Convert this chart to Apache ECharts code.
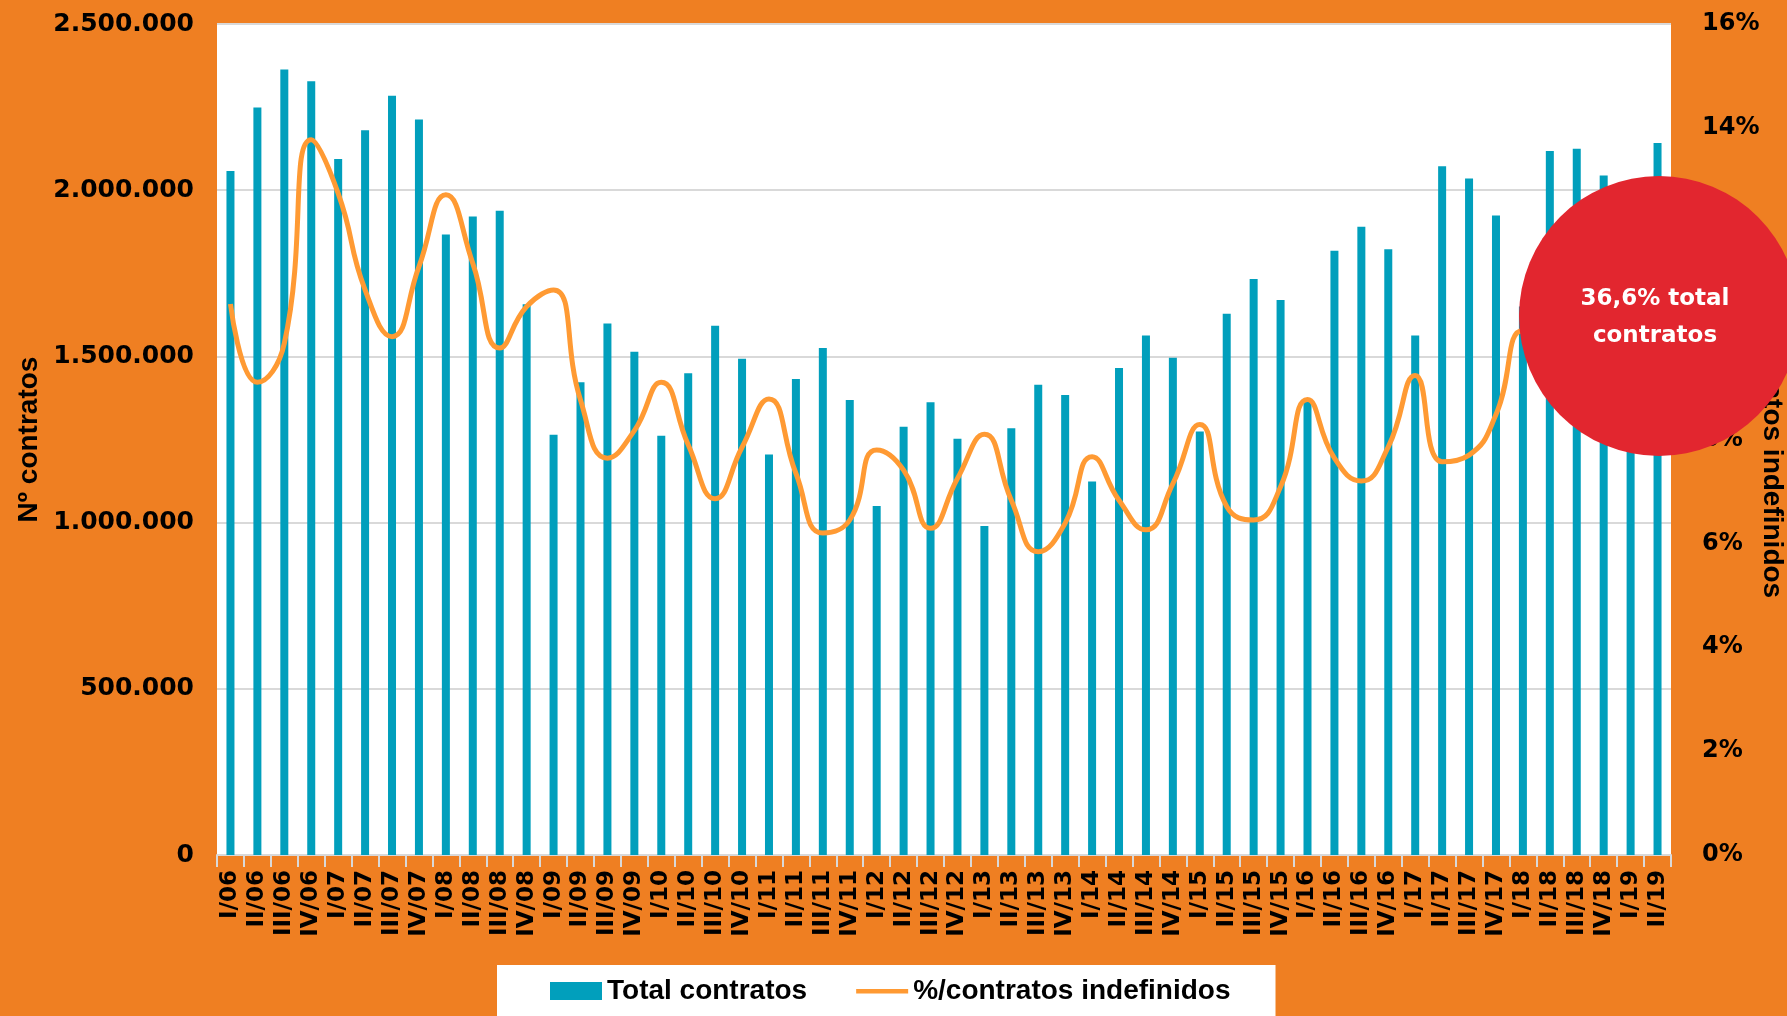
<!DOCTYPE html>
<html>
<head>
<meta charset="utf-8">
<script src="https://cdn.jsdelivr.net/npm/echarts@6/dist/echarts.min.js"></script>
<style>
html,body{margin:0;padding:0;background:#EF7F22;}
#chart{width:1787px;height:1016px;}
</style>
</head>
<body>
<div id="chart"></div>
<script>
const categories = ['I/06','II/06','III/06','IV/06','I/07','II/07','III/07','IV/07','I/08','II/08','III/08','IV/08',
'I/09','II/09','III/09','IV/09','I/10','II/10','III/10','IV/10','I/11','II/11','III/11','IV/11',
'I/12','II/12','III/12','IV/12','I/13','II/13','III/13','IV/13','I/14','II/14','III/14','IV/14',
'I/15','II/15','III/15','IV/15','I/16','II/16','III/16','IV/16','I/17','II/17','III/17','IV/17',
'I/18','II/18','III/18','IV/18','I/19','II/19'];

const totalContratos = [2058000,2249000,2363000,2328000,2094000,2180000,2284000,2213000,1867000,1921000,1938000,1657000,
1264000,1422000,1599000,1514000,1261000,1449000,1592000,1493000,1205000,1432000,1525000,1369000,
1050000,1288000,1362000,1252000,990000,1284000,1415000,1384000,1124000,1465000,1563000,1496000,
1274000,1628000,1733000,1670000,1365000,1818000,1890000,1822000,1563000,2072000,2035000,1924000,
1650000,2118000,2125000,2044000,1720000,2142000];

const pctIndefinidos = [10.61,9.10,9.85,13.77,12.74,10.88,9.98,11.33,12.71,11.39,9.76,10.56,
10.88,8.76,7.64,8.17,9.10,7.90,6.86,7.85,8.78,7.35,6.20,6.45,
7.80,7.41,6.29,7.25,8.10,6.83,5.84,6.39,7.67,6.83,6.26,7.15,
8.29,6.71,6.45,7.09,8.77,7.64,7.20,7.86,9.23,7.57,7.70,8.48,
10.10,9.40,9.00,9.60,11.00,10.20];

const leftTicks = {min:0, max:2500000, interval:500000};
const rightTicks = {min:0, max:16, interval:2};
const calloutText = '36,6% total\ncontratos';

const chart = echarts.init(document.getElementById('chart'));
const fmtThousands = v => String(v).replace(/\B(?=(\d{3})+(?!\d))/g, '.');

chart.setOption({
  backgroundColor: '#EF7F22',
  animation: false,
  grid: {left: 217, right: 116, top: 24, bottom: 161, show: true, backgroundColor: '#FFFFFF', borderWidth: 0,
         containLabel: false, outerBoundsMode: 'none'},
  legend: {
    left: 497, top: 965,
    backgroundColor: '#FFFFFF',
    padding: [12, 45, 24, 53],
    itemWidth: 52, itemHeight: 18, itemGap: 49,
    textStyle: {fontFamily: 'Liberation Sans', fontWeight: 'bold', fontSize: 28, color: '#000', lineHeight: 28},
    data: [
      {name: 'Total contratos', icon: 'rect'},
      {name: '%/contratos indefinidos', icon: 'path://M0,0 L0.01,0 L0,0.01 Z M0,7 L52,7 L52,11.5 L0,11.5 Z M51.99,18 L52,18 L52,17.99 Z', itemStyle: {color: '#FF9A33'}}
    ]
  },
  xAxis: {
    type: 'category',
    data: categories,
    boundaryGap: true,
    axisLine: {lineStyle: {color: '#D9D9D9', width: 2}},
    axisTick: {show: true, length: 12, lineStyle: {color: '#D9D9D9', width: 2}},
    axisLabel: {rotate: 90, interval: 0, margin: 15, fontFamily: 'DejaVu Sans', fontWeight: 'bold', fontSize: 23, color: '#000'},
    splitLine: {show: false}
  },
  yAxis: [{
    type: 'value',
    min: leftTicks.min, max: leftTicks.max, interval: leftTicks.interval,
    name: 'Nº contratos',
    nameLocation: 'middle', nameRotate: 90, nameGap: 174, nameMoveOverlap: false,
    nameTextStyle: {fontFamily: 'Liberation Sans', fontWeight: 'bold', fontSize: 28, color: '#000'},
    axisLine: {show: false}, axisTick: {show: false},
    axisLabel: {margin: 23, fontFamily: 'DejaVu Sans', fontWeight: 'bold', fontSize: 25, color: '#000', formatter: fmtThousands},
    splitLine: {show: true, lineStyle: {color: '#D9D9D9', width: 2}}
  }, {
    type: 'value',
    position: 'right',
    min: rightTicks.min, max: rightTicks.max, interval: rightTicks.interval,
    name: '%/contratos indefinidos',
    nameLocation: 'middle', nameRotate: -90, nameGap: 87, nameMoveOverlap: false,
    nameTextStyle: {fontFamily: 'Liberation Sans', fontWeight: 'bold', fontSize: 28, color: '#000'},
    axisLine: {show: false}, axisTick: {show: false},
    axisLabel: {margin: 31, fontFamily: 'DejaVu Sans', fontWeight: 'bold', fontSize: 24, color: '#000', formatter: v => v + '%'},
    splitLine: {show: false}
  }],
  series: [{
    name: 'Total contratos',
    type: 'bar',
    yAxisIndex: 0,
    data: totalContratos,
    barWidth: 8,
    itemStyle: {color: '#019FBC'}
  }, {
    name: '%/contratos indefinidos',
    type: 'line',
    yAxisIndex: 1,
    data: pctIndefinidos,
    smooth: 0.5,
    symbol: 'none',
    lineStyle: {color: '#FF9A33', width: 5},
    itemStyle: {color: '#FF9A33'},
    z: 3
  }],
  graphic: [{
    type: 'circle',
    z: 100, zlevel: 1,
    shape: {cx: 1659, cy: 316, r: 140},
    style: {fill: '#E2262F'}
  }, {
    type: 'text',
    z: 101, zlevel: 1,
    x: 1655, y: 318,
    style: {text: calloutText, fill: '#FFFFFF', fontFamily: 'DejaVu Sans', fontWeight: 'bold', fontSize: 23, lineHeight: 37, align: 'center', verticalAlign: 'middle'}
  }]
});
</script>
</body>
</html>
